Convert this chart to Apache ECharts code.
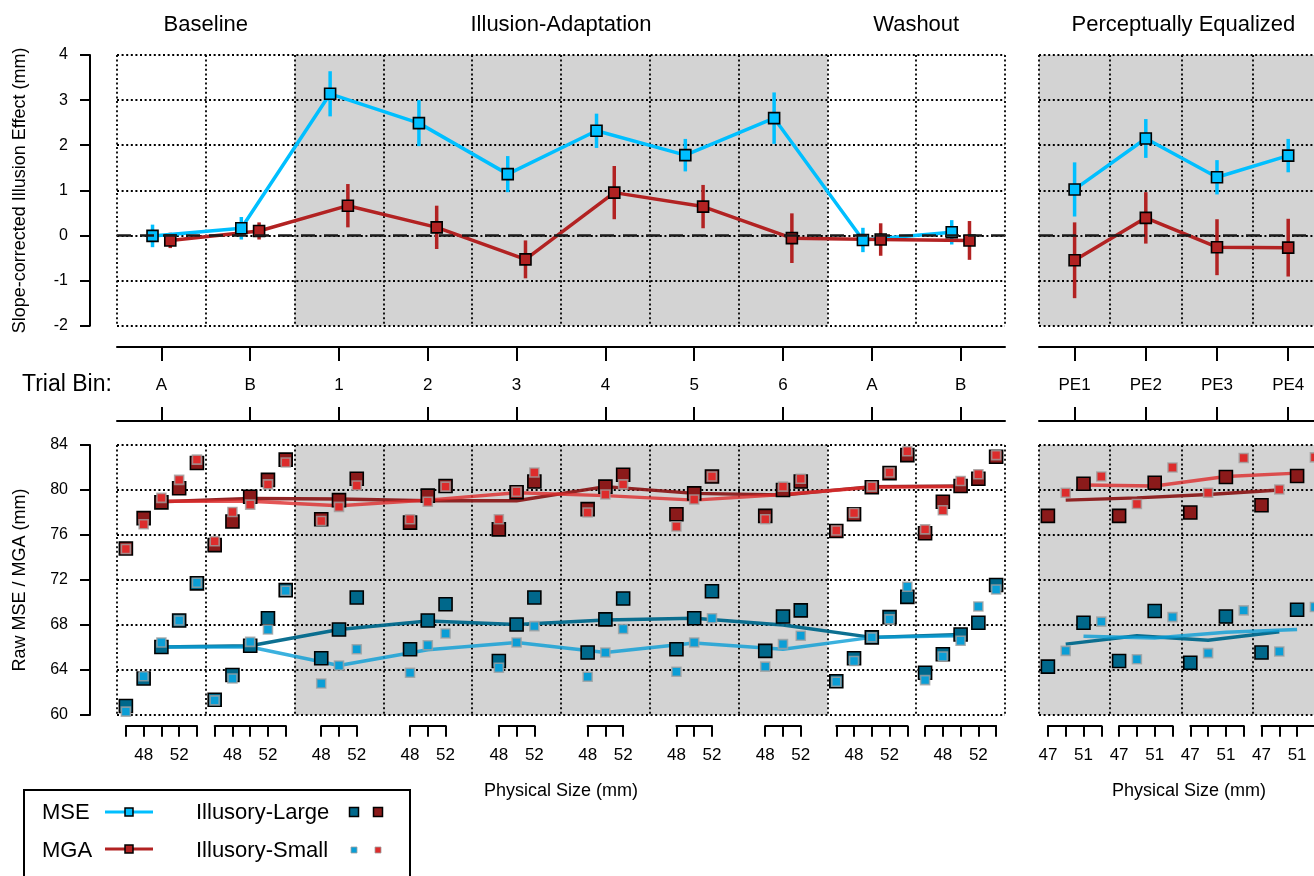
<!DOCTYPE html>
<html>
<head>
<meta charset="utf-8">
<script src="https://cdn.jsdelivr.net/npm/echarts@6/dist/echarts.min.js"></script>
<style>
  html, body { margin: 0; padding: 0; background: #fff; }
  #chart { width: 1314px; height: 876px; }
</style>
</head>
<body>
<div id="chart"></div>
<script>
// ---------------- data ----------------
// Trial bins of the main sequence and of the perceptually equalized blocks
const binLabels = ['A', 'B', '1', '2', '3', '4', '5', '6', 'A', 'B'];
const binPhase = ['base', 'base', 'adapt', 'adapt', 'adapt', 'adapt', 'adapt', 'adapt', 'wash', 'wash'];
const peLabels = ['PE1', 'PE2', 'PE3', 'PE4'];
const phaseTitles = ['Baseline', 'Illusion-Adaptation', 'Washout', 'Perceptually Equalized'];

// Slope-corrected illusion effect (mm): bin means and error-bar half widths
const mseEffect = [-0.01, 0.16, 3.14, 2.49, 1.36, 2.32, 1.78, 2.60, -0.10, 0.07];
const mseErr    = [0.25, 0.25, 0.50, 0.51, 0.40, 0.38, 0.36, 0.57, 0.27, 0.27];
const mgaEffect = [-0.11, 0.10, 0.66, 0.18, -0.53, 0.95, 0.64, -0.06, -0.09, -0.11];
const mgaErr    = [0.17, 0.19, 0.48, 0.48, 0.42, 0.59, 0.48, 0.55, 0.36, 0.43];
const msePE     = [1.02, 2.15, 1.29, 1.77];
const msePEErr  = [0.60, 0.43, 0.38, 0.37];
const mgaPE     = [-0.55, 0.39, -0.26, -0.27];
const mgaPEErr  = [0.84, 0.57, 0.62, 0.64];

// Physical sizes (mm) tested in each bin; labelled size ticks
const fullSizes = [46, 48, 50, 52, 54];
const adaptSizes = [48, 50, 52];
const binSizes = binPhase.map(p => (p === 'adapt' ? adaptSizes : fullSizes));
const binSizeLabels = [48, 52];
const peSizes = [47, 49, 51, 53];
const peLargeSizes = [47, 51];
const peSmallSizes = [49, 53];
const peSizeLabels = [47, 51];

// Raw MGA (mm) per bin and size
const mgaLarge = [
  [74.8, 77.5, 78.9, 80.15, 82.4],
  [75.1, 77.2, 79.4, 80.9, 82.7],
  [77.4, 79.1, 81.0],
  [77.1, 79.5, 80.35],
  [76.5, 79.8, 80.75],
  [78.3, 80.3, 81.35],
  [77.85, 79.7, 81.2],
  [77.7, 80.0, 80.75],
  [76.35, 77.85, 80.25, 81.5, 83.1],
  [76.15, 78.95, 80.35, 81.0, 82.95]
];
const mgaSmall = [
  [74.75, 76.95, 79.3, 80.9, 82.7],
  [75.45, 78.05, 78.7, 80.5, 82.45],
  [77.25, 78.5, 80.4],
  [77.4, 78.95, 80.3],
  [77.4, 79.85, 81.55],
  [78.0, 79.6, 80.5],
  [76.75, 79.15, 81.2],
  [77.4, 80.3, 81.0],
  [76.4, 77.95, 80.3, 81.55, 83.45],
  [76.5, 78.2, 80.8, 81.4, 83.1]
];
// Raw MSE (mm) per bin and size
const mseLarge = [
  [60.8, 63.25, 66.05, 68.4, 71.7],
  [61.35, 63.55, 66.15, 68.6, 71.1],
  [65.05, 67.6, 70.45],
  [65.85, 68.4, 69.85],
  [64.8, 68.05, 70.45],
  [65.55, 68.5, 70.35],
  [65.85, 68.6, 71.0],
  [65.7, 68.75, 69.3],
  [63.0, 65.05, 66.9, 68.7, 70.5],
  [63.75, 65.4, 67.15, 68.2, 71.55]
];
const mseSmall = [
  [60.3, 63.45, 66.45, 68.4, 71.75],
  [61.3, 63.25, 66.5, 67.6, 71.05],
  [62.8, 64.4, 65.85],
  [63.75, 66.2, 67.25],
  [64.2, 66.45, 67.9],
  [63.4, 65.55, 67.65],
  [63.85, 66.45, 68.6],
  [64.3, 66.3, 67.05],
  [62.95, 64.8, 66.9, 68.5, 71.4],
  [63.1, 65.2, 66.6, 69.65, 71.15]
];
// Fitted bin values at the reference size
const mgaLargeFit = [78.95, 79.25, 79.2, 79.05, 79.05, 80.3, 79.7, 79.55, 80.3, 80.35];
const mgaSmallFit = [79.0, 79.0, 78.6, 79.1, 79.75, 79.5, 79.1, 79.6, 80.25, 80.3];
const mseLargeFit = [66.05, 66.15, 67.6, 68.35, 68.05, 68.45, 68.6, 68.0, 66.9, 67.15];
const mseSmallFit = [66.05, 66.05, 64.4, 65.8, 66.45, 65.55, 66.4, 65.85, 66.9, 67.05];

// Perceptually equalized blocks: raw values at the large / small sizes
const mgaLargePE = [[77.7, 80.55], [77.7, 80.65], [78.0, 81.15], [78.65, 81.25]];
const mgaSmallPE = [[79.75, 81.2], [78.75, 82.0], [79.75, 82.85], [80.05, 82.9]];
const mseLargePE = [[64.3, 68.2], [64.8, 69.25], [64.65, 68.75], [65.55, 69.35]];
const mseSmallPE = [[65.7, 68.3], [64.95, 68.7], [65.5, 69.3], [65.65, 69.6]];
const mgaLargePEFit = [79.1, 79.3, 79.6, 80.0];
const mgaSmallPEFit = [80.45, 80.35, 81.2, 81.5];
const mseLargePEFit = [66.3, 67.05, 66.65, 67.4];
const mseSmallPEFit = [67.0, 66.85, 67.35, 67.6];

// ---------------- layout & style ----------------
const FONT = 'Liberation Sans';
const MAIN_LEFT = 117, MAIN_W = 888;
const PE_LEFT = 1039, PE_W = 284.8;
const TOP_Y = 55, TOP_H = 270.7;
const MID_Y = 347, MID_H = 74;
const BOT_Y = 445, BOT_H = 270;
const BRACKET_Y = 725.7;
const MAIN_MM = 10, PE_MM = 8;                // mm spanned by one bin
const MAIN_PX_MM = MAIN_W / (binLabels.length * MAIN_MM);
const PE_PX_MM = PE_W / (peLabels.length * PE_MM);

const C = {
  mse: '#00BFFF', mga: '#B22222',
  mseL: '#00688B', mseS: '#0A9ED6',
  mgaL: '#8B1A1A', mgaS: '#DD2C2C',
  shade: '#D3D3D3'
};

const dotted = { show: true, lineStyle: { color: '#000', width: 1.8, type: [2, 2.6] } };
const noAxis = { axisLine: { show: false, onZero: false }, axisTick: { show: false }, axisLabel: { show: false } };
const shadeColors = binPhase.map(p => (p === 'adapt' ? C.shade : 'rgba(0,0,0,0)'));
const solidAxis = { show: true, onZero: false, lineStyle: { color: '#000', width: 2 } };

// ---------------- grids ----------------
const grids = [
  { left: MAIN_LEFT, top: TOP_Y, width: MAIN_W, height: TOP_H },
  { left: PE_LEFT, top: TOP_Y, width: PE_W, height: TOP_H },
  { left: MAIN_LEFT, top: MID_Y, width: MAIN_W, height: MID_H },
  { left: PE_LEFT, top: MID_Y, width: PE_W, height: MID_H },
  { left: MAIN_LEFT, top: BOT_Y, width: MAIN_W, height: BOT_H },
  { left: PE_LEFT, top: BOT_Y, width: PE_W, height: BOT_H }
];

const xAxes = [
  Object.assign({ gridIndex: 0, type: 'value', min: 0, max: binLabels.length, interval: 1,
    splitLine: dotted, splitArea: { show: true, areaStyle: { color: shadeColors } } }, noAxis),
  Object.assign({ gridIndex: 1, type: 'value', min: 0, max: peLabels.length, interval: 1,
    splitLine: dotted, splitArea: { show: true, areaStyle: { color: [C.shade] } } }, noAxis)
];

function binAxis(gridIndex, data, position, withLabels) {
  return {
    gridIndex, type: 'category', data, position, boundaryGap: true,
    axisLine: solidAxis,
    axisTick: { show: true, inside: true, alignWithLabel: true, length: 14, lineStyle: { color: '#000', width: 2 } },
    axisLabel: { show: withLabels, inside: true, margin: 30, fontSize: 17, color: '#000', fontFamily: FONT },
    splitLine: { show: false }
  };
}
xAxes.push(binAxis(2, binLabels, 'top', true));
xAxes.push(binAxis(2, binLabels, 'bottom', false));
xAxes.push(binAxis(3, peLabels, 'top', true));
xAxes.push(binAxis(3, peLabels, 'bottom', false));
xAxes.push(Object.assign({ gridIndex: 4, type: 'value', min: 0, max: binLabels.length * MAIN_MM, interval: MAIN_MM,
  splitLine: dotted, splitArea: { show: true, areaStyle: { color: shadeColors } } }, noAxis));
xAxes.push(Object.assign({ gridIndex: 5, type: 'value', min: 0, max: peLabels.length * PE_MM, interval: PE_MM,
  splitLine: dotted, splitArea: { show: true, areaStyle: { color: [C.shade] } } }, noAxis));

function leftAxis(gridIndex, min, max, interval, name) {
  return {
    gridIndex, type: 'value', min, max, interval, offset: 27, z: 1,
    name, nameLocation: 'middle', nameGap: 61,
    nameTextStyle: { fontSize: 18, color: '#000', fontFamily: FONT },
    axisLine: solidAxis,
    axisTick: { show: true, length: 10, lineStyle: { color: '#000', width: 2 } },
    axisLabel: { fontSize: 16, margin: 22, color: '#000', fontFamily: FONT },
    splitLine: dotted
  };
}
const yAxes = [
  leftAxis(0, -2, 4, 1, 'Slope-corrected Illusion Effect (mm)'),
  Object.assign({ gridIndex: 1, type: 'value', min: -2, max: 4, interval: 1, z: 1, splitLine: dotted }, noAxis),
  { gridIndex: 2, type: 'value', min: 0, max: 1, show: false },
  { gridIndex: 3, type: 'value', min: 0, max: 1, show: false },
  leftAxis(4, 60, 84, 4, 'Raw MSE / MGA (mm)'),
  Object.assign({ gridIndex: 5, type: 'value', min: 60, max: 84, interval: 4, z: 1, splitLine: dotted }, noAxis)
];

// Per-bin physical size axes under the raw panels
function sizeAxis(left, pxPerMm, ticks, labels) {
  const gi = grids.length;
  grids.push({ left, width: (ticks[ticks.length - 1] - ticks[0]) * pxPerMm, top: BRACKET_Y - 20, height: 20 });
  xAxes.push({
    gridIndex: gi, type: 'value', min: ticks[0], max: ticks[ticks.length - 1], interval: 2, position: 'bottom',
    axisLine: solidAxis,
    axisTick: { show: true, length: 11, lineStyle: { color: '#000', width: 2 } },
    axisLabel: { show: true, margin: 21, fontSize: 17, color: '#000', fontFamily: FONT,
      showMinLabel: true, showMaxLabel: true,
      formatter: v => (labels.indexOf(v) >= 0 ? String(v) : '') },
    splitLine: { show: false }
  });
  yAxes.push({ gridIndex: gi, type: 'value', min: 0, max: 1, show: false });
}
binSizes.forEach((ticks, i) => {
  sizeAxis(MAIN_LEFT + (i * MAIN_MM + ticks[0] - 45) * MAIN_PX_MM, MAIN_PX_MM, ticks, binSizeLabels);
});
peLabels.forEach((_, j) => {
  sizeAxis(PE_LEFT + (j * PE_MM + peSizes[0] - 46) * PE_PX_MM, PE_PX_MM, peSizes, peSizeLabels);
});
grids.forEach(g => { g.show = false; g.containLabel = false; g.outerBoundsMode = 'none'; });

// ---------------- series builders ----------------
function errorBars(xi, yi, data, color) {
  return {
    type: 'custom', xAxisIndex: xi, yAxisIndex: yi, silent: true, z: 2,
    encode: { x: 0, y: [1, 2] },
    data,
    renderItem(params, api) {
      const a = api.coord([api.value(0), api.value(1)]);
      const b = api.coord([api.value(0), api.value(2)]);
      return { type: 'line', shape: { x1: a[0], y1: a[1], x2: b[0], y2: b[1] },
        style: { stroke: color, lineWidth: 3.5 } };
    }
  };
}
function zeroLine(series) {
  series.markLine = {
    silent: true, symbol: ['none', 'none'], label: { show: false }, animation: false,
    lineStyle: { color: '#1a1a1a', width: 2.5, type: [14, 9] },
    data: [{ yAxis: 0 }]
  };
  return series;
}
function lineSeries(xi, yi, data, color, width, opacity) {
  return { type: 'line', xAxisIndex: xi, yAxisIndex: yi, data, symbol: 'none', silent: true, z: 3,
    lineStyle: { color, width, opacity: opacity == null ? 1 : opacity }, itemStyle: { color } };
}
function squares(xi, yi, data, color, size, border, borderWidth, z) {
  return { type: 'scatter', xAxisIndex: xi, yAxisIndex: yi, data, symbol: 'rect', symbolSize: size, silent: true,
    z: z || 4, itemStyle: { color, borderColor: border, borderWidth, opacity: 1 } };
}

// Effect panel positions: MSE left of the bin centre, MGA right of it
const effPts = (vals, off) => vals.map((v, i) => [i + off, v]);
const effBars = (vals, err, off) => vals.map((v, i) => [i + off, v - err[i], v + err[i]]);

// Raw panel positions: each bin spans MAIN_MM mm centred on 50 mm
function mainPoints(valsByBin) {
  const out = [];
  valsByBin.forEach((vals, i) => vals.forEach((v, k) => out.push([i * MAIN_MM + binSizes[i][k] - 45, v])));
  return out;
}
const mainFit = vals => vals.map((v, i) => [i * MAIN_MM + 5, v]);
function pePoints(valsByBin, sizes) {
  const out = [];
  valsByBin.forEach((vals, j) => vals.forEach((v, k) => out.push([j * PE_MM + sizes[k] - 46, v])));
  return out;
}
const peFit = (vals, size) => vals.map((v, j) => [j * PE_MM + size - 46, v]);

const smallBorder = 'rgba(160,160,160,0.8)';
const series = [
  // effect, main sequence
  zeroLine(errorBars(0, 0, effBars(mseEffect, mseErr, 0.4), C.mse)),
  errorBars(0, 0, effBars(mgaEffect, mgaErr, 0.6), C.mga),
  lineSeries(0, 0, effPts(mseEffect, 0.4), C.mse, 3.5),
  lineSeries(0, 0, effPts(mgaEffect, 0.6), C.mga, 3.5),
  squares(0, 0, effPts(mseEffect, 0.4), C.mse, 11, '#000', 1.6),
  squares(0, 0, effPts(mgaEffect, 0.6), C.mga, 11, '#000', 1.6),
  // effect, perceptually equalized
  zeroLine(errorBars(1, 1, effBars(msePE, msePEErr, 0.5), C.mse)),
  errorBars(1, 1, effBars(mgaPE, mgaPEErr, 0.5), C.mga),
  lineSeries(1, 1, effPts(msePE, 0.5), C.mse, 3.5),
  lineSeries(1, 1, effPts(mgaPE, 0.5), C.mga, 3.5),
  squares(1, 1, effPts(msePE, 0.5), C.mse, 11, '#000', 1.6),
  squares(1, 1, effPts(mgaPE, 0.5), C.mga, 11, '#000', 1.6),
  // raw, main sequence
  lineSeries(6, 4, mainFit(mgaLargeFit), C.mgaL, 3.5, 0.95),
  lineSeries(6, 4, mainFit(mgaSmallFit), C.mgaS, 3.5, 0.8),
  lineSeries(6, 4, mainFit(mseLargeFit), C.mseL, 3.5, 0.95),
  lineSeries(6, 4, mainFit(mseSmallFit), C.mseS, 3.5, 0.8),
  squares(6, 4, mainPoints(mgaLarge), C.mgaL, 13, '#000', 1.6, 4),
  squares(6, 4, mainPoints(mseLarge), C.mseL, 13, '#000', 1.6, 4),
  squares(6, 4, mainPoints(mgaSmall), C.mgaS, 9, smallBorder, 1.6, 5),
  squares(6, 4, mainPoints(mseSmall), C.mseS, 9, smallBorder, 1.6, 5),
  // raw, perceptually equalized
  lineSeries(7, 5, peFit(mgaLargePEFit, 49), C.mgaL, 3.5, 0.95),
  lineSeries(7, 5, peFit(mgaSmallPEFit, 51), C.mgaS, 3.5, 0.8),
  lineSeries(7, 5, peFit(mseLargePEFit, 49), C.mseL, 3.5, 0.95),
  lineSeries(7, 5, peFit(mseSmallPEFit, 51), C.mseS, 3.5, 0.8),
  squares(7, 5, pePoints(mgaLargePE, peLargeSizes), C.mgaL, 13, '#000', 1.6, 4),
  squares(7, 5, pePoints(mseLargePE, peLargeSizes), C.mseL, 13, '#000', 1.6, 4),
  squares(7, 5, pePoints(mgaSmallPE, peSmallSizes), C.mgaS, 9, smallBorder, 1.6, 5),
  squares(7, 5, pePoints(mseSmallPE, peSmallSizes), C.mseS, 9, smallBorder, 1.6, 5)
];

// ---------------- titles, labels, legend ----------------
function text(x, y, str, size, align) {
  return { type: 'text', x, y, silent: true, z: 10,
    style: { text: str, fontSize: size, fontFamily: FONT, fill: '#000', align: align || 'center', verticalAlign: 'middle' } };
}
const binX = i => MAIN_LEFT + i * MAIN_W / binLabels.length;
const graphics = [
  text((binX(0) + binX(2)) / 2, 25, phaseTitles[0], 22),
  text((binX(2) + binX(8)) / 2, 25, phaseTitles[1], 22),
  text((binX(8) + binX(10)) / 2, 25, phaseTitles[2], 22),
  text(PE_LEFT + PE_W / 2 + 2, 25, phaseTitles[3], 22),
  text(22, MID_Y + MID_H / 2 + 1, 'Trial Bin:', 23, 'left'),
  text(MAIN_LEFT + MAIN_W / 2, 791, 'Physical Size (mm)', 18),
  text(1189, 791, 'Physical Size (mm)', 18),
  // legend box
  { type: 'rect', silent: true, z: 10, shape: { x: 24, y: 790, width: 386, height: 100 },
    style: { fill: '#fff', stroke: '#000', lineWidth: 2 } },
  text(42, 813, 'MSE', 22, 'left'),
  text(42, 851, 'MGA', 22, 'left'),
  { type: 'line', silent: true, z: 11, shape: { x1: 105, y1: 812, x2: 153, y2: 812 }, style: { stroke: C.mse, lineWidth: 3 } },
  { type: 'rect', silent: true, z: 12, shape: { x: 125, y: 808, width: 8, height: 8 }, style: { fill: C.mse, stroke: '#000', lineWidth: 1.5 } },
  { type: 'line', silent: true, z: 11, shape: { x1: 105, y1: 849, x2: 153, y2: 849 }, style: { stroke: C.mga, lineWidth: 3 } },
  { type: 'rect', silent: true, z: 12, shape: { x: 125, y: 845, width: 8, height: 8 }, style: { fill: C.mga, stroke: '#000', lineWidth: 1.5 } },
  text(196, 813, 'Illusory-Large', 22, 'left'),
  text(196, 851, 'Illusory-Small', 22, 'left'),
  { type: 'rect', silent: true, z: 12, shape: { x: 349.5, y: 807.5, width: 9, height: 9 }, style: { fill: C.mseL, stroke: '#000', lineWidth: 1.5 } },
  { type: 'rect', silent: true, z: 12, shape: { x: 373.5, y: 807.5, width: 9, height: 9 }, style: { fill: C.mgaL, stroke: '#000', lineWidth: 1.5 } },
  { type: 'rect', silent: true, z: 12, shape: { x: 351, y: 847, width: 6, height: 6 }, style: { fill: C.mseS, stroke: smallBorder, lineWidth: 1 } },
  { type: 'rect', silent: true, z: 12, shape: { x: 375, y: 847, width: 6, height: 6 }, style: { fill: C.mgaS, stroke: smallBorder, lineWidth: 1 } }
];

const chart = echarts.init(document.getElementById('chart'), null, { renderer: 'canvas' });
chart.setOption({
  animation: false,
  backgroundColor: '#fff',
  textStyle: { fontFamily: FONT, color: '#000' },
  grid: grids,
  xAxis: xAxes,
  yAxis: yAxes,
  series,
  graphic: graphics
});
</script>
</body>
</html>
